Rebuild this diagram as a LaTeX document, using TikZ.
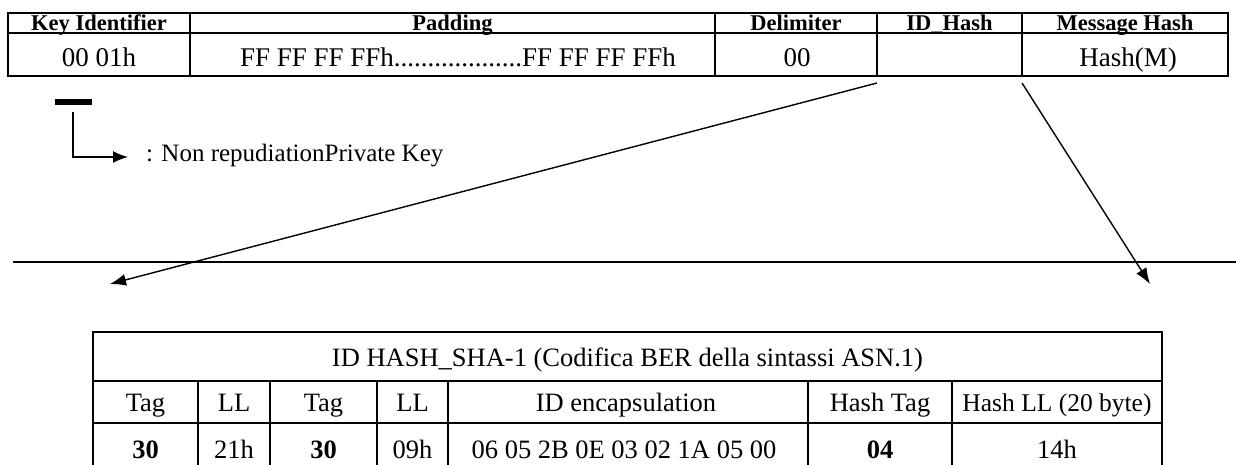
\documentclass[tikz,border=0pt]{standalone}
\usepackage{fontspec}
\setmainfont{Liberation Serif}
\usetikzlibrary{arrows.meta}
\begin{document}
\begin{tikzpicture}[x=1pt,y=-1pt,
  rule/.style={line width=1.8pt},
  hdr/.style={font=\fontsize{22.5}{22.5}\selectfont\bfseries, inner sep=0pt, anchor=base},
  val/.style={font=\fontsize{26.5}{26.5}\selectfont, inner sep=0pt, anchor=base},
  bval/.style={val, font=\fontsize{26.5}{26.5}\selectfont\bfseries},
  link/.style={line width=1.4pt, -{Latex[length=16pt,width=12pt]}}]
\useasboundingbox (0,0) rectangle (1236,465);

% ---- signature block layout (top table)
\draw[rule] (8,13) rectangle (1228,76);
\draw[rule] (8,33) -- (1228,33);
\foreach \x in {190,715,877,1022} \draw[rule] (\x,13) -- (\x,76);

\node[hdr] (kidh) at (99,31)    {Key Identifier};
\node[hdr] (padh) at (452.5,31) {Padding};
\node[hdr] (delh) at (796,31)   {Delimiter};
\node[hdr] (idhh) at (949.5,31) {ID\_Hash};
\node[hdr] (msgh) at (1125,31)  {Message Hash};

\node[val, font=\fontsize{27}{27}\selectfont] (kidv) at (99,67)    {00 01h};
\node[val, font=\fontsize{27}{27}\selectfont] (padv) at (458,67)   {FF FF FF FFh...................FF FF FF FFh};
\node[val, font=\fontsize{27}{27}\selectfont] (delv) at (797,67)   {00};
\node[val, font=\fontsize{27}{27}\selectfont] (msgv) at (1128,67)  {Hash(M)};

% ---- legend: thick bar with elbow arrow
\draw[line width=6pt] (55,102) -- (92,102);
\coordinate (elbA) at (73,112);
\coordinate (elbB) at (128,157);
\draw[line width=1.4pt, -{Latex[length=15pt,width=12pt]}] (elbA) |- (elbB);
\node[val, anchor=base west, font=\fontsize{25}{25}\selectfont] (legend) at (146,162) {: Non repudiationPrivate Key};

% ---- separator line
\coordinate (sepL) at (13,262);
\coordinate (sepR) at (1236,262);
\draw[line width=2.4pt] (sepL) -- (sepR);

% ---- connectors from the ID_Hash field
\coordinate (idL) at (877,83);
\coordinate (idR) at (1022,83);
\coordinate (tipL) at (110,284);
\coordinate (tipR) at (1150,284);
\draw[link] (idL) -- (tipL);
\draw[link] (idR) -- (tipR);

% ---- ASN.1 encoding table
\draw[rule] (93,465) -- (93,332) -- (1162,332) -- (1162,465);
\draw[rule] (93,381) -- (1162,381);
\draw[rule] (93,423) -- (1162,423);
\foreach \x in {198,270,377,448,808,952} \draw[rule] (\x,381) -- (\x,465);

\node[val] (title) at (627.5,366) {ID HASH\_SHA-1 (Codifica BER della sintassi ASN.1)};

\node[val] (t1) at (145.5,411) {Tag};
\node[val] (l1) at (234,411)   {LL};
\node[val] (t2) at (323.5,411) {Tag};
\node[val] (l2) at (412.5,411) {LL};
\node[val] (ie) at (626,411)   {ID encapsulation};
\node[val] (ht) at (880,411)   {Hash Tag};
\node[val, font=\fontsize{25.5}{25.5}\selectfont] (hl) at (1057,411)  {Hash LL (20 byte)};

\node[bval] (v1) at (145.5,458) {30};
\node[val]  (v2) at (234,458)   {21h};
\node[bval] (v3) at (323.5,458) {30};
\node[val]  (v4) at (412.5,458) {09h};
\node[val]  (v5) at (624,458)   {06 05 2B 0E 03 02 1A 05 00};
\node[bval] (v6) at (880,458)   {04};
\node[val]  (v7) at (1057,458)  {14h};
\end{tikzpicture}
\end{document}
